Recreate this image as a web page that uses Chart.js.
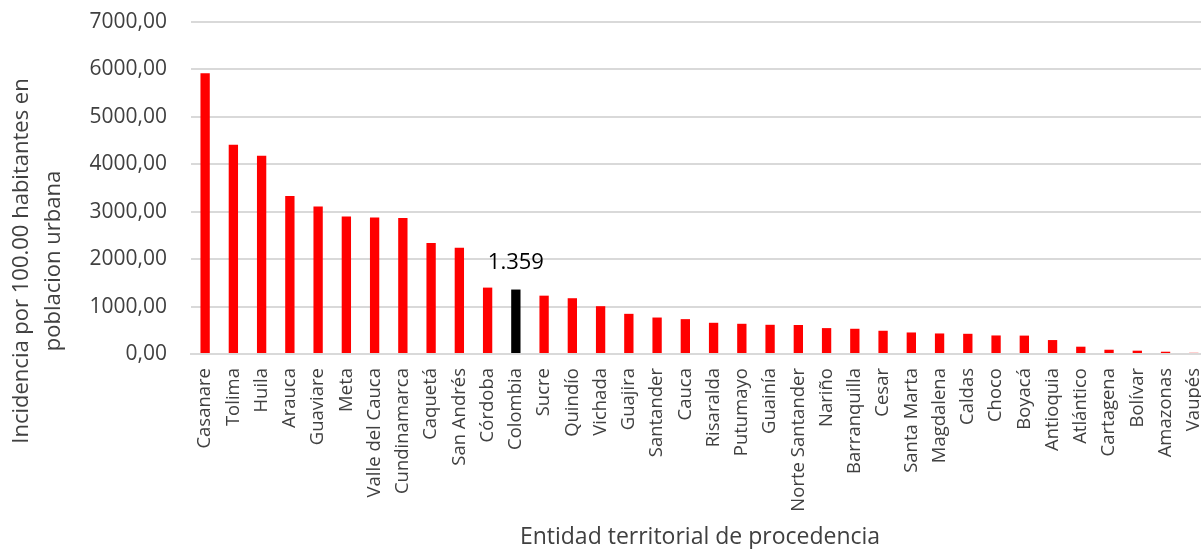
<!DOCTYPE html>
<html>
<head>
<meta charset="utf-8">
<script src="https://cdn.jsdelivr.net/npm/chart.js@4.4.1/dist/chart.umd.min.js"></script>
<style>
  html, body { margin: 0; padding: 0; background: #fff; overflow: hidden; }
  #wrap { width: 1230px; height: 549px; }
</style>
</head>
<body>
<div id="wrap"><canvas id="myChart" width="1230" height="549"></canvas></div>
<script>
const entidades = ['Casanare', 'Tolima', 'Huila', 'Arauca', 'Guaviare', 'Meta', 'Valle del Cauca',
  'Cundinamarca', 'Caquetá', 'San Andrés', 'Córdoba', 'Colombia', 'Sucre', 'Quindío', 'Vichada',
  'Guajira', 'Santander', 'Cauca', 'Risaralda', 'Putumayo', 'Guainía', 'Norte Santander', 'Nariño',
  'Barranquilla', 'Cesar', 'Santa Marta', 'Magdalena', 'Caldas', 'Choco', 'Boyacá', 'Antioquia',
  'Atlántico', 'Cartagena', 'Bolívar', 'Amazonas', 'Vaupés'];
const incidencia = [5920, 4410, 4180, 3330, 3110, 2900, 2880, 2865, 2340, 2240, 1400, 1359, 1230,
  1176, 1008, 847, 769, 735, 658, 637, 616, 612, 546, 532, 490, 454, 433, 426, 391, 388, 294,
  154, 90, 70, 48, 25];
const yTicks = [0, 1000, 2000, 3000, 4000, 5000, 6000, 7000];
const nacional = 'Colombia';
const etiquetaNacional = '1.359';

const font = "'Open Sans', 'Noto Sans', sans-serif";

// axis titles and the national value label
const textos = {
  id: 'textos',
  afterDraw(chart) {
    const ctx = chart.ctx;
    ctx.save();
    ctx.fillStyle = '#404040';
    ctx.font = '23px ' + font;
    ctx.textAlign = 'center';
    ctx.textBaseline = 'middle';
    ctx.fillText('Entidad territorial de procedencia', 700, 537);

    ctx.font = '22px ' + font;
    ctx.translate(38, 261);
    ctx.rotate(-Math.PI / 2);
    ctx.fillText('Incidencia por 100.00 habitantes en', 0, -16);
    ctx.fillText('poblacion urbana', 0, 16);
    ctx.restore();

    const i = entidades.indexOf(nacional);
    const bar = chart.getDatasetMeta(0).data[i];
    ctx.save();
    ctx.fillStyle = '#000';
    ctx.font = '22px ' + font;
    ctx.textAlign = 'center';
    ctx.textBaseline = 'middle';
    ctx.fillText(etiquetaNacional, bar.x, bar.y - 27);
    ctx.restore();
  }
};

new Chart(document.getElementById('myChart'), {
  type: 'bar',
  data: {
    labels: entidades,
    datasets: [{
      data: incidencia,
      backgroundColor: entidades.map(e => e === nacional ? '#000000' : '#ff0000'),
      categoryPercentage: 1,
      barPercentage: 0.33
    }]
  },
  options: {
    responsive: false,
    animation: false,
    layout: { padding: { top: 22, left: 0, right: 0, bottom: 0 } },
    plugins: { legend: { display: false }, tooltip: { enabled: false } },
    scales: {
      x: {
        grid: { display: false, drawTicks: false },
        border: { color: '#d9d9d9', width: 2 },
        afterFit(scale) { scale.height = 195; },
        ticks: {
          autoSkip: false,
          minRotation: 90,
          maxRotation: 90,
          padding: 14,
          color: '#404040',
          font: { family: font, size: 18.5 }
        }
      },
      y: {
        min: 0,
        max: 7000,
        afterFit(scale) {
          scale.width = 191;
          scale.paddingTop = 0;
          scale.paddingBottom = 0;
        },
        afterBuildTicks(scale) { scale.ticks = yTicks.map(v => ({ value: v })); },
        grid: { color: '#d9d9d9', lineWidth: 2, drawTicks: false },
        border: { display: false },
        ticks: {
          padding: 24,
          color: '#404040',
          font: { family: font, size: 21 },
          callback: v => v.toFixed(2).replace('.', ',')
        }
      }
    }
  },
  plugins: [textos]
});
</script>
</body>
</html>
